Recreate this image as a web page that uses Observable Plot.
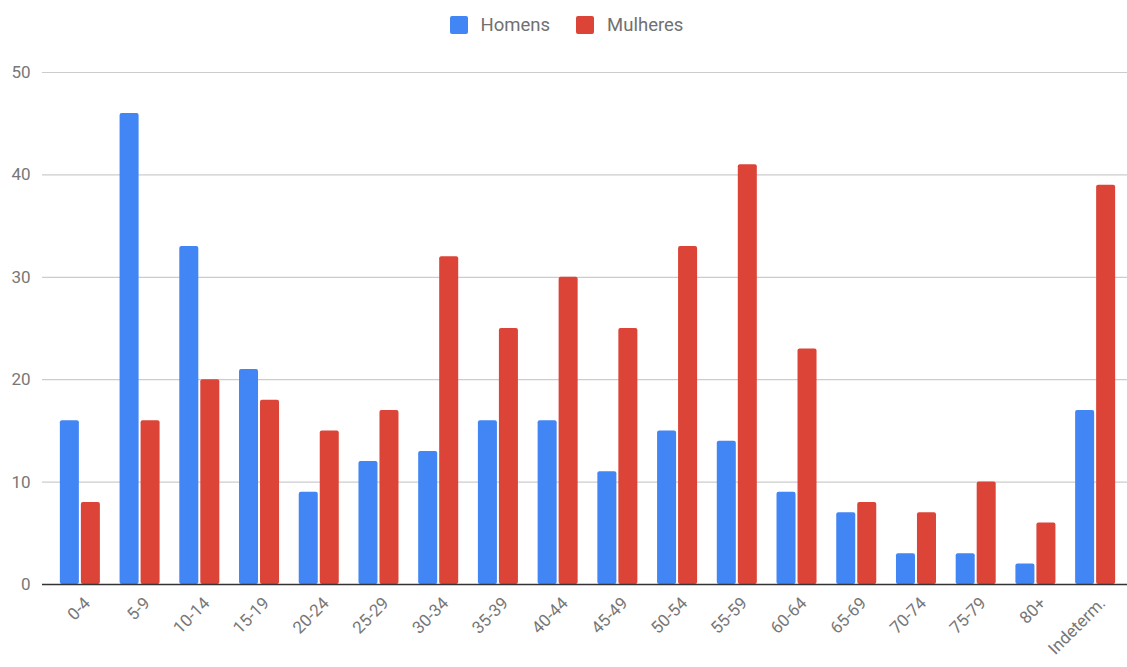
<!DOCTYPE html>
<html>
<head>
<meta charset="utf-8">
<script src="https://cdn.jsdelivr.net/npm/d3@7"></script>
<script src="https://cdn.jsdelivr.net/npm/@observablehq/plot@0.6"></script>
<style>
  html, body { margin: 0; padding: 0; background: #fff; }
  body { width: 1127px; font-family: Roboto, "Noto Sans", sans-serif; }
  .legend { height: 50px; display: flex; justify-content: center; align-items: center; font-size: 18.5px; color: #707070; padding-left: 6px; box-sizing: border-box; }
  .legend .item { display: flex; align-items: center; margin: 0 13px; }
  .legend .sw { width: 18px; height: 18px; border-radius: 2px; margin-right: 13px; }
</style>
</head>
<body>
<div class="legend" id="legend"></div>
<div id="chart"></div>
<script>
// Age groups and case counts by sex
const ageGroups = ["0-4","5-9","10-14","15-19","20-24","25-29","30-34","35-39","40-44","45-49","50-54","55-59","60-64","65-69","70-74","75-79","80+","Indeterm."];
const homens   = [16,46,33,21, 9,12,13,16,16,11,15,14, 9, 7, 3, 3, 2,17];
const mulheres = [ 8,16,20,18,15,17,32,25,30,25,33,41,23, 8, 7,10, 6,39];
const seriesNames = ["Homens", "Mulheres"];
const seriesColors = ["#4285F4", "#DB4437"];
const yTicks = [0, 10, 20, 30, 40, 50];

const rows = ageGroups.flatMap((g, i) => [
  {group: g, sexo: seriesNames[0], value: homens[i]},
  {group: g, sexo: seriesNames[1], value: mulheres[i]}
]);

// legend
const legend = document.getElementById("legend");
seriesNames.forEach((name, i) => {
  const item = document.createElement("div");
  item.className = "item";
  item.innerHTML = `<span class="sw" style="background:${seriesColors[i]}"></span><span>${name}</span>`;
  legend.appendChild(item);
});

const chart = Plot.plot({
  width: 1127,
  height: 617,
  marginTop: 22,
  marginBottom: 83,
  marginLeft: 42,
  marginRight: 0,
  style: {fontFamily: "Roboto, 'Noto Sans', sans-serif", color: "#777", background: "#fff"},
  x: {domain: ageGroups, range: [50, 1125], paddingInner: 0.33, paddingOuter: 0.165, round: false, label: null},
  y: {domain: [0, 50], label: null},
  color: {domain: seriesNames, range: seriesColors},
  marks: [
    Plot.ruleY(yTicks.filter(d => d > 0), {stroke: "#cccccc", strokeWidth: 1.2}),
    Plot.barY(rows.filter(d => d.sexo === "Homens"), {x: "group", y: "value", fill: "sexo", insetRight: 21, rx: 2}),
    Plot.barY(rows.filter(d => d.sexo === "Mulheres"), {x: "group", y: "value", fill: "sexo", insetLeft: 21, rx: 2}),
    Plot.ruleY([0], {stroke: "#333333", strokeWidth: 1.5}),
    Plot.axisY({ticks: yTicks, tickSize: 0, tickPadding: 12, fontSize: 17, label: null}),
    Plot.axisX({tickSize: 0, tickPadding: 16, tickRotate: -45, fontSize: 17, dx: 7, label: null})
  ]
});
document.getElementById("chart").appendChild(chart);
</script>
</body>
</html>
